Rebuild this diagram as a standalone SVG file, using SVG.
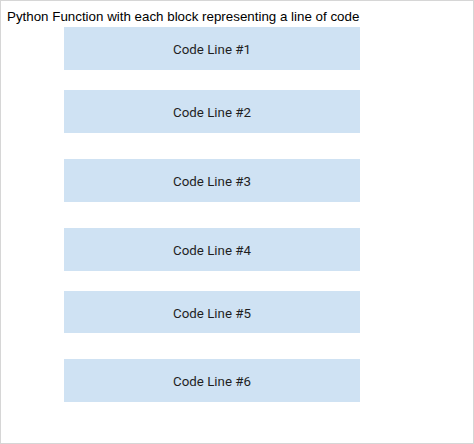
<svg xmlns="http://www.w3.org/2000/svg" width="474" height="444" viewBox="0 0 474 444">
<style>
.frame{fill:#ffffff;stroke:#d6d6d6;stroke-width:1}
.box{fill:#cfe2f3}
.lbl{font-family:Roboto,"Liberation Sans",sans-serif;font-size:13.3px;fill:#1f1f1f;text-anchor:middle}
.title{font-family:"Liberation Sans",Arial,sans-serif;font-size:13.35px;fill:#000000}
</style>
<rect class="frame" x="0.5" y="0.5" width="473" height="443"/>
<text class="title" x="7" y="20.5">Python Function with each block representing a line of code</text>
<g id="line1"><rect class="box" x="64" y="27" width="296" height="43"/><text class="lbl" x="212" y="54">Code Line #1</text></g>
<g id="line2"><rect class="box" x="64" y="90" width="296" height="43"/><text class="lbl" x="212" y="117">Code Line #2</text></g>
<g id="line3"><rect class="box" x="64" y="159" width="296" height="43"/><text class="lbl" x="212" y="186">Code Line #3</text></g>
<g id="line4"><rect class="box" x="64" y="228" width="296" height="43"/><text class="lbl" x="212" y="255">Code Line #4</text></g>
<g id="line5"><rect class="box" x="64" y="291" width="296" height="42"/><text class="lbl" x="212" y="317.5">Code Line #5</text></g>
<g id="line6"><rect class="box" x="64" y="359" width="296" height="43"/><text class="lbl" x="212" y="386">Code Line #6</text></g>
<g id="connectors"></g>
</svg>
